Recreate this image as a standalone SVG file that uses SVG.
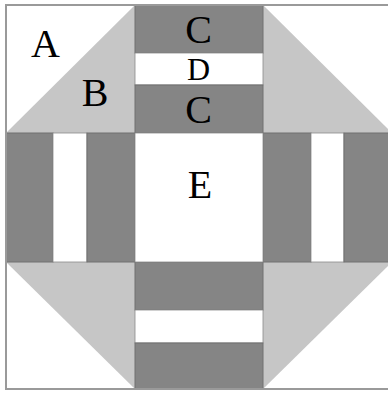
<svg xmlns="http://www.w3.org/2000/svg" width="388" height="393" viewBox="0 0 388 393">
<style>
.dk{fill:#858585;stroke:#707070;stroke-width:1}
.wh{fill:#ffffff;stroke:#8a8a8a;stroke-width:0.8}
.lt{fill:#c6c6c6}
.lb{font-family:"Liberation Serif","Times New Roman",serif;font-size:40px;fill:#000;text-anchor:middle}
</style>
<rect x="0" y="0" width="388" height="393" fill="#ffffff"/>
<g id="corner-tl">
<rect x="6" y="5" width="129" height="128" fill="#fff"/>
<polygon class="lt" points="6,133 135,5 135,133"/>
<text class="lb" x="45.5" y="57">A</text>
<text class="lb" x="95" y="106">B</text>
</g>
<g id="corner-tr">
<polygon class="lt" points="263,5 392,133 263,133"/>
</g>
<g id="corner-bl">
<polygon class="lt" points="6,262 135,262 135,389"/>
</g>
<g id="corner-br">
<polygon class="lt" points="263,262 392,262 263,389"/>
</g>
<g id="top-strips">
<rect class="dk" x="135" y="5" width="128" height="48"/>
<rect class="wh" x="135" y="53" width="128" height="32"/>
<rect class="dk" x="135" y="85" width="128" height="48"/>
<text class="lb" x="198.5" y="43">C</text>
<text class="lb" x="198.5" y="80" font-size="32" style="font-size:32px">D</text>
<text class="lb" x="198.5" y="123">C</text>
</g>
<g id="bottom-strips">
<rect class="dk" x="135" y="262" width="128" height="48"/>
<rect class="wh" x="135" y="310" width="128" height="33"/>
<rect class="dk" x="135" y="343" width="128" height="46"/>
</g>
<g id="left-strips">
<rect class="dk" x="6" y="133" width="47" height="129"/>
<rect class="wh" x="53" y="133" width="34" height="129"/>
<rect class="dk" x="87" y="133" width="48" height="129"/>
</g>
<g id="right-strips">
<rect class="dk" x="263" y="133" width="48" height="129"/>
<rect class="wh" x="311" y="133" width="33" height="129"/>
<rect class="dk" x="344" y="133" width="48" height="129"/>
</g>
<g id="center">
<rect class="wh" x="135" y="133" width="128" height="129"/>
<text class="lb" x="200" y="198">E</text>
</g>
<rect x="6" y="5" width="390" height="384" fill="none" stroke="#9a9a9a" stroke-width="2"/>
</svg>
